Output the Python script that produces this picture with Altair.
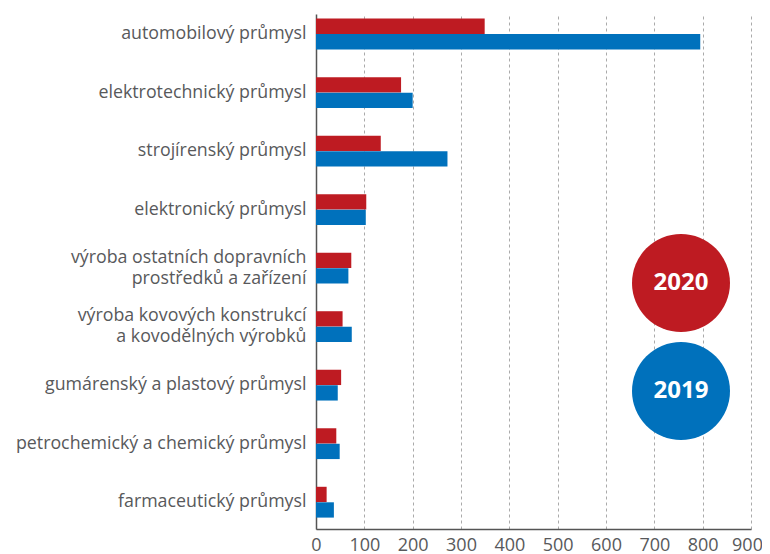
import altair as alt
import pandas as pd

categories = [
    "automobilový průmysl",
    "elektrotechnický průmysl",
    "strojírenský průmysl",
    "elektronický průmysl",
    "výroba ostatních dopravních|prostředků a zařízení",
    "výroba kovových konstrukcí|a kovodělných výrobků",
    "gumárenský a plastový průmysl",
    "petrochemický a chemický průmysl",
    "farmaceutický průmysl",
]
values_2020 = [349, 176, 134, 104, 73, 55, 52, 42, 22]
values_2019 = [795, 200, 272, 103, 67, 74, 45, 49, 37]
years = ["2020", "2019"]
colors = ["#BE1B22", "#0071BC"]
x_ticks = [0, 100, 200, 300, 400, 500, 600, 700, 800, 900]

rows = []
for c, a, b in zip(categories, values_2020, values_2019):
    rows.append({"kategorie": c, "rok": "2020", "hodnota": a})
    rows.append({"kategorie": c, "rok": "2019", "hodnota": b})
df = pd.DataFrame(rows)

font = "Open Sans"

bars = alt.Chart(df).mark_bar(size=15.3).encode(
    y=alt.Y(
        "kategorie:N",
        sort=categories,
        scale=alt.Scale(paddingInner=0.47, paddingOuter=0.135, align=0.285),
        axis=alt.Axis(
            title=None,
            labelExpr="split(datum.label, '|')",
            labelFont=font,
            labelFontSize=17.8,
            labelColor="#58595B",
            labelPadding=10,
            labelLineHeight=21,
            labelOffset=alt.expr("indexof(datum.value, '|') >= 0 ? -10.5 : 0"),
            ticks=False,
            domainColor="#555555",
            domainWidth=1.5,
            grid=False,
            labelLimit=400,
        ),
    ),
    yOffset=alt.YOffset("rok:N", sort=years, scale=alt.Scale(paddingInner=0, paddingOuter=0)),
    x=alt.X(
        "hodnota:Q",
        scale=alt.Scale(domain=[0, 900], nice=False),
        axis=alt.Axis(
            title=None,
            values=x_ticks,
            labelFont=font,
            labelFontSize=18,
            labelColor="#58595B",
            labelPadding=7,
            labelFlush=False,
            labelOverlap=False,
            labelOffset=alt.expr("datum.value == 900 ? -4 : 0"),
            ticks=False,
            domainColor="#555555",
            domainWidth=1.5,
            grid=True,
            gridColor="#AAAAAA",
            gridDash=[3, 3],
            gridWidth=1,
        ),
    ),
    color=alt.Color("rok:N", scale=alt.Scale(domain=years, range=colors), legend=None),
)

leg = pd.DataFrame({"rok": years, "py": [269, 377]})
circles = alt.Chart(leg).mark_circle(size=9604, opacity=1).encode(
    x=alt.value(365),
    y=alt.Y("py:Q", scale=None),
    color=alt.Color("rok:N", scale=alt.Scale(domain=years, range=colors), legend=None),
)
texts = alt.Chart(leg).mark_text(
    font=font, fontSize=24, fontWeight="bold", color="white", baseline="middle", align="center"
).encode(
    x=alt.value(365),
    y=alt.Y("py:Q", scale=None),
    text="rok:N",
)

chart = alt.layer(bars, circles, texts).properties(
    width=435,
    height=515,
    autosize=alt.AutoSizeParams(type="none"),
    padding={"left": 308, "top": 6, "right": 11, "bottom": 30},
).configure_view(stroke=None)

chart.save("out.html", embed_options={"renderer": "svg", "actions": False})
